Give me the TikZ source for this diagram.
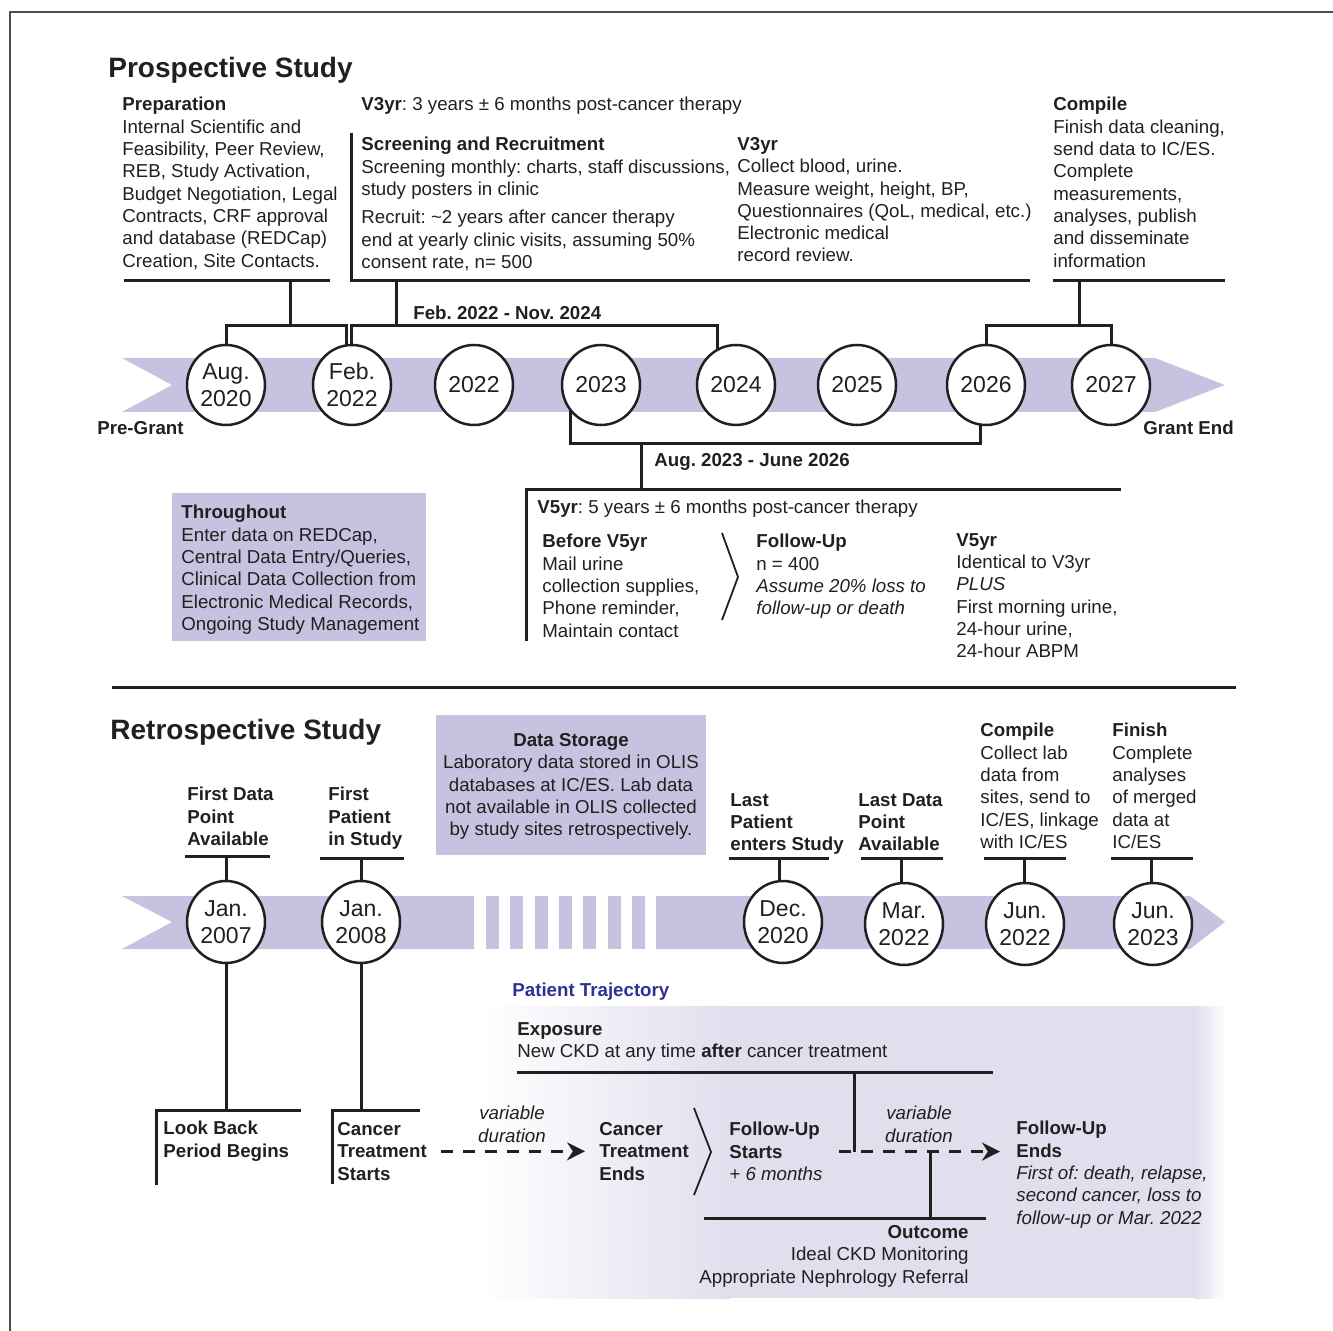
\documentclass[tikz,border=0pt]{standalone}
\usepackage{fontspec}
\setmainfont{Liberation Sans}
\usetikzlibrary{positioning, calc, shapes.geometric, arrows.meta, backgrounds}

\definecolor{ink}{HTML}{231F20}
\definecolor{frame}{HTML}{4D4D4F}
\definecolor{band}{HTML}{C5C3E0}
\definecolor{trajbg}{HTML}{E0DFEE}
\definecolor{trajblue}{HTML}{2E3192}

\newcommand{\bodysize}{\fontsize{9.35}{11.15}\selectfont\frenchspacing}
\newcommand{\yearsize}{\fontsize{11.5}{13.5}\selectfont}
\newcommand{\titlesize}{\fontsize{14}{16}\selectfont}

\tikzset{
  lbl/.style={anchor=north west, inner sep=0pt, align=left, font=\bodysize, text=ink},
  bl/.style={lbl, font=\bodysize\bfseries},
  blr/.style={bl, anchor=north east, align=right},
  lblc/.style={lbl, anchor=north, align=center},
  lblr/.style={lbl, anchor=north east, align=right},
  ttl/.style={anchor=base west, inner sep=0pt, font=\titlesize\bfseries, text=ink},
  yr/.style={ellipse, draw=ink, line width=1.25pt, fill=white, minimum width=39pt, minimum height=40pt, inner sep=0pt, align=center, font=\yearsize, text=ink},
  yrb/.style={yr, minimum height=41pt},
  brk/.style={draw=ink, line width=1.5pt},
  chev/.style={draw=ink, line width=0.9pt},
  dasharr/.style={draw=ink, line width=1.3pt, dash pattern=on 6pt off 5pt, -{Stealth[length=9pt, width=9pt]}, shorten <=7pt, shorten >=7pt},
}

\begin{document}
\begin{tikzpicture}[x=0.5pt, y=-0.5pt]
\useasboundingbox (0,0) rectangle (1333,1331);
\draw[frame, line width=0.6pt] (10,1331) -- (10,12) -- (1333,12);

% Prospective study
\node[ttl] (prosp) at (108,78) {Prospective Study};

\node[lbl] (prep) at (122,97) {\textbf{Preparation}\\Internal Scientific and\\Feasibility, Peer Review,\\REB, Study Activation,\\Budget Negotiation, Legal\\Contracts, CRF approval\\and database (REDCap)\\Creation, Site Contacts.};
\node[lbl] (v3hd) at (361,97) {\textbf{V3yr}: 3 years ± 6 months post-cancer therapy};
\node[lbl] (scr) at (361,137) {\textbf{Screening and Recruitment}\\Screening monthly: charts, staff discussions,\\study posters in clinic};
\node[lbl] (rec) at (361,210) {Recruit: \textasciitilde2 years after cancer therapy\\end at yearly clinic visits, assuming 50\%\\consent rate, n= 500};
\node[lbl] (v3) at (737,137) {\textbf{V3yr}\\Collect blood, urine.\\Measure weight, height, BP,\\Questionnaires (QoL, medical, etc.)\\Electronic medical\\record review.};
\node[lbl] (cmp) at (1053,97) {\textbf{Compile}\\Finish data cleaning,\\send data to IC/ES.\\Complete\\measurements,\\analyses, publish\\and disseminate\\information};
\node[bl] (febrng) at (413,306) {Feb. 2022 - Nov. 2024};

\node[yr] (aug) at (226,385) {Aug.\\2020};
\node[yr] (feb) at (352,385) {Feb.\\2022};
\node[yr] (y22) at (474,385) {2022};
\node[yr] (y23) at (601,385) {2023};
\node[yr] (y24) at (736,385) {2024};
\node[yr] (y25) at (857,385) {2025};
\node[yr] (y26) at (986,385) {2026};
\node[yr] (y27) at (1111,385) {2027};

\node[blr] (pregrant) at (184,421) {Pre-Grant};
\node[bl] (grantend) at (1143,421) {Grant End};
\node[bl] (augrng) at (654,453) {Aug. 2023 - June 2026};

\node[lbl] (thru) at (181,505) {\textbf{Throughout}\\Enter data on REDCap,\\Central Data Entry/Queries,\\Clinical Data Collection from\\Electronic Medical Records,\\Ongoing Study Management};
\node[lbl] (v5hd) at (537,500) {\textbf{V5yr}: 5 years ± 6 months post-cancer therapy};
\node[lbl] (bef) at (542,534) {\textbf{Before V5yr}\\Mail urine\\collection supplies,\\Phone reminder,\\Maintain contact};
\node[lbl] (fu) at (756,534) {\textbf{Follow-Up}\\n = 400\\\textit{Assume 20\% loss to}\\\textit{follow-up or death}};
\node[lbl] (v5) at (956,533) {\textbf{V5yr}\\Identical to V3yr\\\textit{PLUS}\\First morning urine,\\24-hour urine,\\24-hour ABPM};

\draw[chev] (722,533) -- (738,577) -- (722,620);
\draw[brk] (112,687) -- (1236,687);

% Retrospective study
\node[ttl] (retro) at (110,739) {Retrospective Study};
\node[lblc] (store) at (571,733) {\textbf{Data Storage}\\Laboratory data stored in OLIS\\databases at IC/ES. Lab data\\not available in OLIS collected\\by study sites retrospectively.};

\node[bl] (fdp) at (187,787) {First Data\\Point\\Available};
\node[bl] (fpt) at (328,787) {First\\Patient\\in Study};
\node[bl] (lpt) at (730,793) {Last\\Patient\\enters Study};
\node[bl] (ldp) at (858,793) {Last Data\\Point\\Available};
\node[lbl] (cmp2) at (980,723) {\textbf{Compile}\\Collect lab\\data from\\sites, send to\\IC/ES, linkage\\with IC/ES};
\node[lbl] (fin) at (1112,723) {\textbf{Finish}\\Complete\\analyses\\of merged\\data at\\IC/ES};

\node[yrb] (ja07) at (226,922) {Jan.\\2007};
\node[yrb] (ja08) at (361,922) {Jan.\\2008};
\node[yrb] (de20) at (783,922) {Dec.\\2020};
\node[yrb] (mr22) at (904,924) {Mar.\\2022};
\node[yrb] (jn22) at (1025,924) {Jun.\\2022};
\node[yrb] (jn23) at (1153,924) {Jun.\\2023};

\node[bl, text=trajblue] (traj) at (512,983) {Patient Trajectory};
\node[lbl] (expo) at (517,1022) {\textbf{Exposure}\\New CKD at any time \textbf{after} cancer treatment};
\node[bl] (lbk) at (163,1121) {Look Back\\Period Begins};
\node[bl] (cts) at (337,1122) {Cancer\\Treatment\\Starts};
\node[lblc, font=\bodysize\itshape] (vd1) at (512,1106) {variable\\duration};
\node[bl] (cte) at (599,1122) {Cancer\\Treatment\\Ends};
\node[lbl] (fus) at (729,1122) {\textbf{Follow-Up}\\\textbf{Starts}\\\textit{+ 6 months}};
\node[lblc, font=\bodysize\itshape] (vd2) at (919,1106) {variable\\duration};
\node[lbl] (fue) at (1016,1121) {\textbf{Follow-Up}\\\textbf{Ends}\\\textit{First of: death, relapse,}\\\textit{second cancer, loss to}\\\textit{follow-up or Mar. 2022}};
\node[lblr] (outc) at (969,1225) {\textbf{Outcome}\\Ideal CKD Monitoring\\Appropriate Nephrology Referral};

\draw[chev] (694,1108) -- (711,1152) -- (694,1195);
\draw[dasharr] (cts) -- (cte);
\draw[dasharr, shorten <=8pt, shorten >=8pt] (fus) -- (fus -| fue.west);

\begin{scope}[on background layer]
  % bands and boxes
  \fill[band] (122,358) -- (1155,358) -- (1225,385) -- (1155,412) -- (122,412) -- (172,385) -- cycle;
  \fill[band] (122,896) -- (474,896) -- (474,949) -- (122,949) -- (172,922) -- cycle;
  \fill[band] (486,896) rectangle (499,949);
  \fill[band] (510,896) rectangle (523,949);
  \fill[band] (535,896) rectangle (548,949);
  \fill[band] (559,896) rectangle (572,949);
  \fill[band] (583,896) rectangle (596,949);
  \fill[band] (608,896) rectangle (621,949);
  \fill[band] (632,896) rectangle (645,949);
  \fill[band] (656,896) -- (1190,896) -- (1225,922) -- (1190,949) -- (656,949) -- cycle;
  \fill[band] (172,493) rectangle (426,641);
  \fill[band] (436,715) rectangle (706,855);
  \shade[left color=white, right color=trajbg] (478,1006) rectangle (730,1298);
  \fill[trajbg] (729,1006) rectangle (1196,1298);
  \shade[left color=trajbg, right color=white] (1195,1006) rectangle (1226,1298);

  % top brackets
  \coordinate (prepL) at (124,281);
  \coordinate (prepR) at (330,281);
  \coordinate (prepT) at (290,281);
  \coordinate (prepJ) at (290,326);
  \draw[brk] (prepL) -- (prepR);
  \draw[brk] (prepT) -- (prepJ);
  \draw[brk] (aug.center) |- (prepJ) -| ([xshift=-3pt]feb.center);

  \coordinate (scrTop) at (351,133);
  \coordinate (scrBL) at (351,281);
  \coordinate (scrBR) at (1030,281);
  \coordinate (scrT) at (396,281);
  \coordinate (febJ) at (396,326);
  \draw[brk] (scrTop) -- (scrBL) -- (scrBR);
  \draw[brk] (scrT) -- (febJ);
  \draw[brk] ([xshift=-0.5pt]feb.center) |- (febJ) -| ([xshift=-9.5pt]y24.center);

  \coordinate (cmpL) at (1053,281);
  \coordinate (cmpR) at (1225,281);
  \coordinate (cmpT) at (1079,281);
  \coordinate (cmpJ) at (1079,326);
  \draw[brk] (cmpL) -- (cmpR);
  \draw[brk] (cmpT) -- (cmpJ);
  \draw[brk] (y26.center) |- (cmpJ) -| (y27.center);

  \coordinate (augJ) at (641,444);
  \coordinate (v5T) at (641,490);
  \coordinate (v5TL) at (526,490);
  \coordinate (v5TR) at (1121,490);
  \coordinate (v5BL) at (526,641);
  \draw[brk] ([xshift=-15.5pt]y23.center) |- (augJ) -| ([xshift=-3pt]y26.center);
  \draw[brk] (augJ) -- (v5T);
  \draw[brk] (v5BL) -- (v5TL) -- (v5TR);

  % bottom brackets
  \coordinate (fdpL) at (185,856);
  \coordinate (fdpR) at (270,856);
  \coordinate (fdpT) at (226,856);
  \draw[brk] (fdpL) -- (fdpR);
  \draw[brk] (fdpT) -- (ja07.center);
  \coordinate (fptL) at (320,858);
  \coordinate (fptR) at (404,858);
  \coordinate (fptT) at (361,858);
  \draw[brk] (fptL) -- (fptR);
  \draw[brk] (fptT) -- (ja08.center);
  \coordinate (lptL) at (729,858);
  \coordinate (lptR) at (829,858);
  \coordinate (lptT) at (779,858);
  \draw[brk] (lptL) -- (lptR);
  \draw[brk] (lptT) -- (lptT |- de20.center);
  \coordinate (ldpL) at (861,858);
  \coordinate (ldpR) at (943,858);
  \coordinate (ldpT) at (901,858);
  \draw[brk] (ldpL) -- (ldpR);
  \draw[brk] (ldpT) -- (ldpT |- mr22.center);
  \coordinate (cmp2L) at (984,858);
  \coordinate (cmp2R) at (1066,858);
  \coordinate (cmp2T) at (1024,858);
  \draw[brk] (cmp2L) -- (cmp2R);
  \draw[brk] (cmp2T) -- (cmp2T |- jn22.center);
  \coordinate (finL) at (1111,858);
  \coordinate (finR) at (1193,858);
  \coordinate (finT) at (1151,858);
  \draw[brk] (finL) -- (finR);
  \draw[brk] (finT) -- (finT |- jn23.center);

  \coordinate (lbkL) at (156,1110);
  \coordinate (lbkR) at (301,1110);
  \coordinate (lbkB) at (156,1185);
  \draw[brk] (lbkB) -- (lbkL) -- (lbkR);
  \draw[brk] (ja07.center) -- (ja07.center |- lbkL);
  \coordinate (ctsL) at (332,1110);
  \coordinate (ctsR) at (420,1110);
  \coordinate (ctsB) at (332,1184);
  \draw[brk] (ctsB) -- (ctsL) -- (ctsR);
  \draw[brk] (ja08.center) -- (ja08.center |- ctsL);

  \coordinate (expL) at (517,1072);
  \coordinate (expR) at (993,1072);
  \coordinate (expT) at (854,1072);
  \draw[brk] (expL) -- (expR);
  \draw[brk] (expT) -- (expT |- fus.center);
  \coordinate (outL) at (704,1218);
  \coordinate (outR) at (986,1218);
  \coordinate (outT) at (930,1218);
  \draw[brk] (outL) -- (outR);
  \draw[brk] (outT) -- (outT |- fus.center);
\end{scope}
\end{tikzpicture}
\end{document}
